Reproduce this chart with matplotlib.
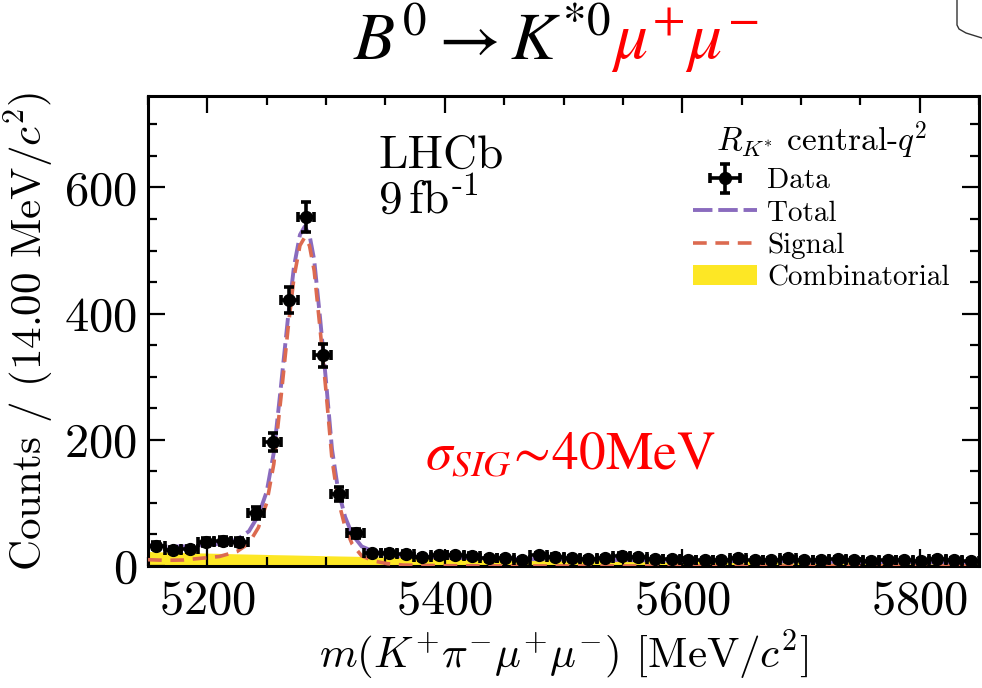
import matplotlib
matplotlib.use('Agg')
import matplotlib.pyplot as plt
import numpy as np
from matplotlib.ticker import MultipleLocator
from matplotlib.lines import Line2D

plt.rcParams['font.family'] = ['cmr10', 'DejaVu Serif']
plt.rcParams['mathtext.fontset'] = 'cm'
plt.rcParams['axes.formatter.use_mathtext'] = True
plt.rcParams['axes.unicode_minus'] = False

# ---------------- data ----------------
bin_lo = 5150
bin_width = 14
counts = [32, 25, 27, 38, 40, 38, 84, 197, 421, 553,
          334, 114, 52, 20, 21, 19, 14, 17, 17, 16,
          12, 13, 10, 17, 15, 13, 11, 13, 16, 14,
          11, 11, 10, 10, 10, 12, 10, 9, 12, 10,
          9, 11, 9, 8, 10, 9, 8, 11, 9, 8]

curve_mass = [5150, 5165, 5180, 5195, 5210, 5225, 5235, 5243, 5250, 5256,
              5262, 5268, 5273, 5278, 5282, 5286, 5290, 5295, 5300, 5305,
              5310, 5316, 5322, 5330, 5340, 5352, 5365, 5380, 5400, 5450,
              5500, 5600, 5700, 5850]
total_vals = [33, 31, 31, 33, 35, 42, 55, 80, 118, 180,
              285, 395, 475, 525, 538, 525, 485, 392, 292, 185,
              122, 78, 50, 31, 23, 18, 15.5, 14.5, 13.3, 11.5,
              10.3, 8.4, 6.8, 5.0]
signal_vals = [10, 9, 9.5, 12.3, 15, 23, 36, 61, 100, 162,
               267, 377, 458, 508, 521, 508, 468, 375, 276, 169,
               106, 62, 34.5, 16, 8, 3.6, 1.5, 1.0, 0.5, 0.1,
               0, 0, 0, 0]
comb_vals = [23.0, 22.2, 21.5, 20.7, 20.0, 19.3, 18.9, 18.6, 18.3, 18.0,
             17.8, 17.6, 17.4, 17.2, 17.0, 16.9, 16.7, 16.5, 16.3, 16.1,
             15.9, 15.7, 15.5, 15.2, 14.8, 14.4, 14.0, 13.5, 12.8, 11.4,
             10.3, 8.4, 6.8, 5.0]

x_ticks = [5200, 5400, 5600, 5800]
y_ticks = [0, 200, 400, 600]

# colours
c_total = '#8a6bbe'
c_signal = '#dc6a50'
c_comb = '#fde725'

counts_arr = np.array(counts, dtype=float)
centers = bin_lo + bin_width * (np.arange(len(counts)) + 0.5)

fig = plt.figure(figsize=(9.82, 6.88), dpi=100)
ax = fig.add_axes([148/982, 1 - 566/688, (979-148)/982, (566-96)/688])

comb_poly = ax.fill_between(curve_mass, 0, comb_vals, color=c_comb, lw=0, zorder=1)
tot_line, = ax.plot(curve_mass, total_vals, color=c_total, lw=2.8,
                    ls=(0, (5.0, 1.5)), zorder=2)
sig_line, = ax.plot(curve_mass, signal_vals, color=c_signal, lw=2.6,
                    ls=(0, (3.8, 2.4)), zorder=3)
data_eb = ax.errorbar(centers, counts_arr, yerr=np.sqrt(counts_arr),
                      xerr=bin_width / 2, fmt='o', color='black', ms=8.5,
                      elinewidth=2.6, capsize=3.5, capthick=2.6, zorder=5)

ax.set_xlim(5150, 5850)
ax.set_ylim(0, 745)
ax.set_xticks(x_ticks)
ax.set_yticks(y_ticks)
ax.xaxis.set_minor_locator(MultipleLocator(50))
ax.yaxis.set_minor_locator(MultipleLocator(50))
ax.tick_params(which='both', direction='in', top=True, right=True, width=1.6,
               labelsize=35)
ax.tick_params(which='major', length=12)
ax.tick_params(which='minor', length=6.5)
ax.tick_params(axis='x', pad=10)
ax.tick_params(axis='y', pad=8)
for s in ax.spines.values():
    s.set_linewidth(2.2)

ax.set_xlabel(r'$m(K^{+}\pi^{-}\mu^{+}\mu^{-})$ [MeV/$c^2$]', fontsize=31,
              labelpad=3)
ax.set_ylabel(r'Counts / (14.00 MeV/$c^2$)', fontsize=31, labelpad=6)

ax.text(0.277, 0.847, 'LHCb', transform=ax.transAxes, fontsize=34,
        ha='left', va='baseline')
ax.text(0.277, 0.751, r'9$\,$fb$^{\text{-1}}$', transform=ax.transAxes,
        fontsize=34, ha='left', va='baseline')

ax.text(0.333, 0.205, r'$\sigma_{SIG}\!\sim\!40\mathrm{MeV}$', transform=ax.transAxes,
        fontsize=38.5, color='#ff0000', ha='left', va='baseline',
        math_fontfamily='stix')

leg = ax.legend([data_eb, tot_line, sig_line, comb_poly],
                ['Data', 'Total', 'Signal', 'Combinatorial'],
                title=r'$R_{K^{*}}$ central-$q^2$', loc='upper right',
                bbox_to_anchor=(0.972, 0.962), frameon=False, fontsize=21,
                title_fontsize=24, handlelength=2.2, handletextpad=0.35,
                labelspacing=0.2, borderpad=0.2, borderaxespad=0.0)

# title
fig.text(0.622, 0.913, r'$B^0 \rightarrow K^{*0}$', ha='right', va='baseline',
         fontsize=48.5, math_fontfamily='stix', color='black')
fig.text(0.622, 0.913, r'$\mu^{+}\mu^{-}$', ha='left', va='baseline',
         fontsize=48.5, math_fontfamily='stix', color='#ff0000')

# screenshot artefact top-right
fig.add_artist(Line2D([957/982, 957/982, 959/982, 966/982, 982/982],
                      [1, 1 - 25/688, 1 - 29/688, 1 - 33/688, 1 - 38/688],
                      transform=fig.transFigure, color='#333333', lw=1.0))

fig.savefig('out.png', dpi=100)
